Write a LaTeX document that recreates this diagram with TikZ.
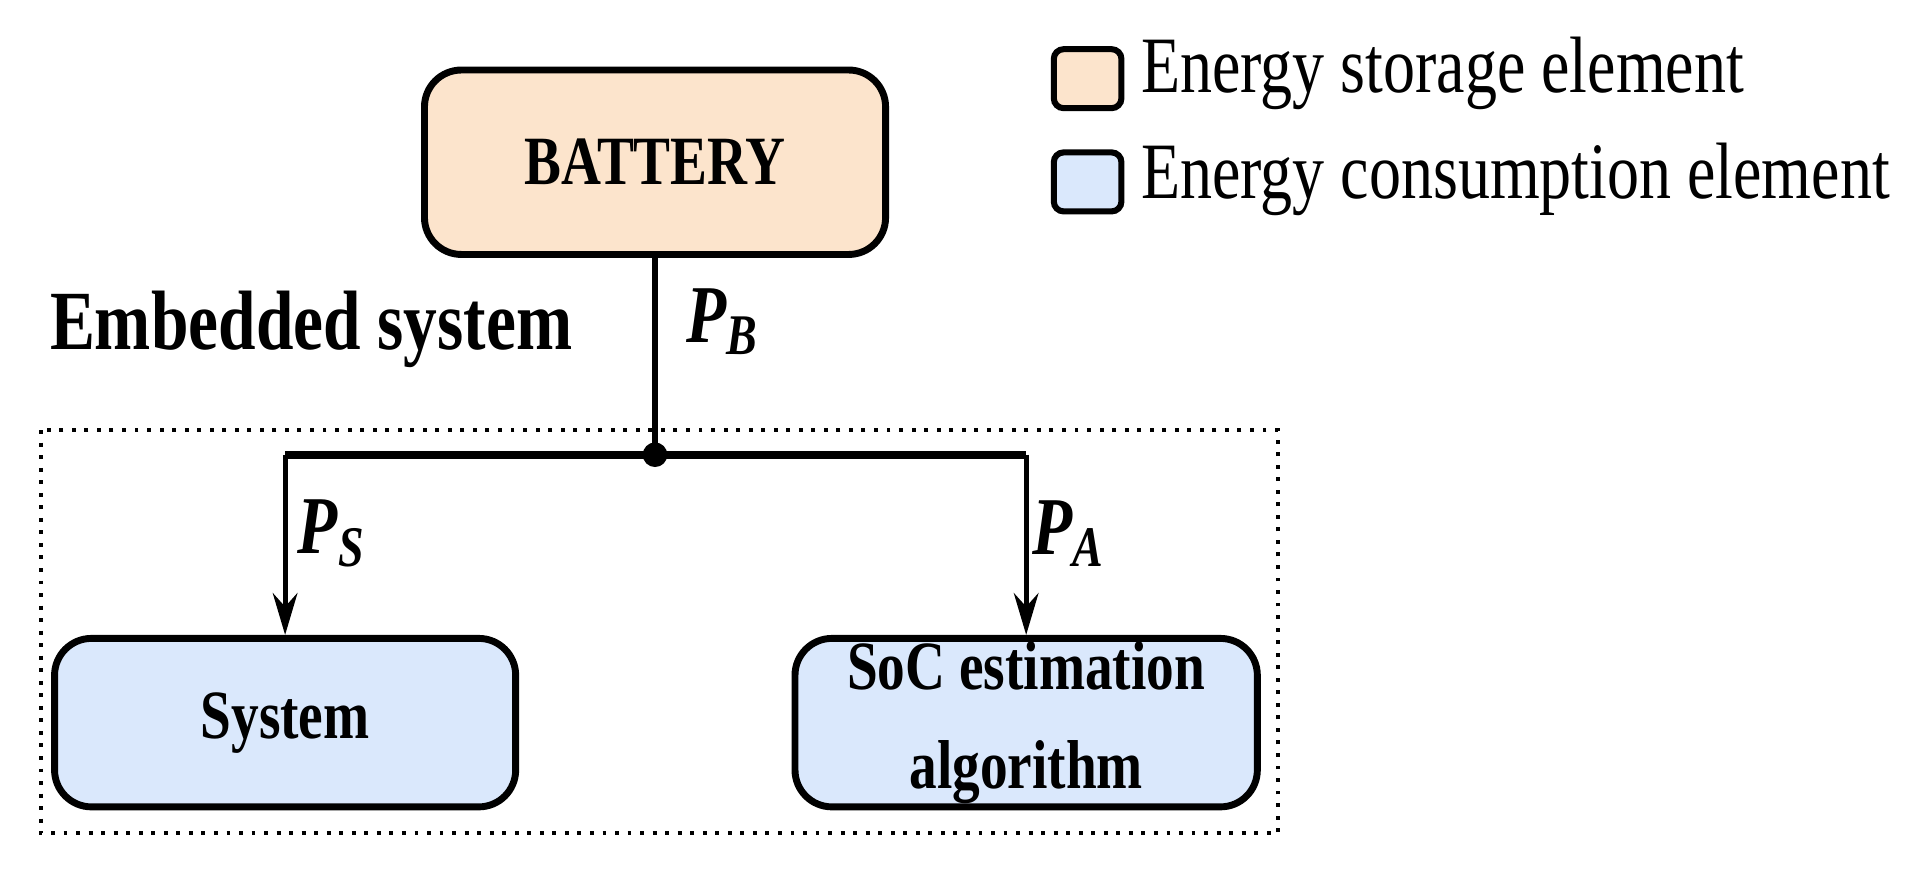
\documentclass[tikz,border=0pt]{standalone}
\usepackage{fontspec}
\setmainfont{Liberation Serif}[FakeStretch=0.8]
\usetikzlibrary{arrows.meta}
\definecolor{peach}{HTML}{FCE4CC}
\definecolor{lblue}{HTML}{DAE8FC}
\begin{document}
\begin{tikzpicture}[x=0.01cm,y=-0.01cm,
  box/.style={draw,line width=1.6pt,rounded corners=0.3cm,inner sep=0pt,align=center,font=\fontsize{16}{23}\selectfont\bfseries},
  leg/.style={draw,line width=1.4pt,rounded corners=0.08cm,minimum width=0.55cm,minimum height=0.48cm,inner sep=0pt},
  lt/.style={anchor=west,font=\fontsize{18.5}{22}\selectfont,inner sep=0pt},
  pl/.style={font=\fontsize{19}{22}\selectfont\bfseries\itshape},
  arr/.style={-{Stealth[length=0.34cm,width=0.2cm]},line width=1.2pt}]
\useasboundingbox (0,0) rectangle (1568,717);
\node[box,fill=peach,minimum width=3.75cm,minimum height=1.5cm] (bat) at (533,132) {BATTERY};
\node[box,fill=lblue,minimum width=3.75cm,minimum height=1.37cm] (sys) at (232,588) {System};
\node[box,fill=lblue,minimum width=3.76cm,minimum height=1.37cm] (soc) at (835,588) {SoC estimation\\algorithm};
\draw[dotted,line width=0.9pt] (33,350) rectangle (1040,678);
\node[anchor=west,font=\fontsize{19.5}{24}\selectfont\bfseries,inner sep=0pt] (emb) at (40,268) {Embedded system};
\coordinate (j) at (533,370);
\coordinate (l) at (232,370);
\coordinate (r) at (835,370);
\draw[line width=1.2pt] (bat.south) -- (j);
\draw[line width=1.8pt] (l) -- (r);
\fill (j) circle (0.1cm);
\draw[arr] (l) -- (sys.north);
\draw[arr] (r) -- (soc.north);
\node[pl] (pb) at (588,262) {P\textsubscript{B}};
\node[pl] (ps) at (270,434) {P\textsubscript{S}};
\node[pl] (pa) at (870,434) {P\textsubscript{A}};
\node[leg,fill=peach] (l1) at (885,64) {};
\node[lt] (t1) at (928,60) {Energy storage element};
\node[leg,fill=lblue] (l2) at (885,148) {};
\node[lt] (t2) at (928,146) {Energy consumption element};
\end{tikzpicture}
\end{document}
